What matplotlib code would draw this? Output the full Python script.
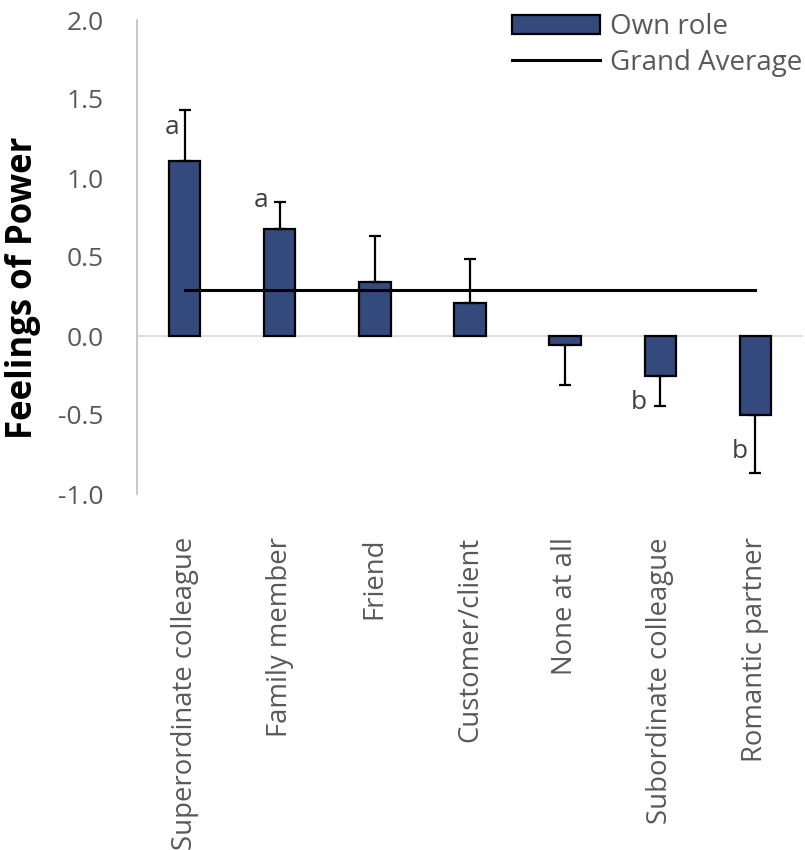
import numpy as np
import matplotlib
matplotlib.use('Agg')
import matplotlib.pyplot as plt
from matplotlib.lines import Line2D
from matplotlib.patches import Patch

# ── data ──────────────────────────────────────────────────────────────────────
roles = ['Superordinate colleague', 'Family member', 'Friend', 'Customer/client',
         'None at all', 'Subordinate colleague', 'Romantic partner']
means = [1.11, 0.68, 0.34, 0.21, -0.06, -0.25, -0.50]
errors = [0.32, 0.17, 0.29, 0.28, 0.25, 0.19, 0.37]
grand_avg = 0.29

# significance letters: (bar index, letter, y)
letters = [(0, 'a', 1.32), (1, 'a', 0.86), (5, 'b', -0.42), (6, 'b', -0.73)]
letter_dx = [-0.13, -0.20, -0.23, -0.16]

BAR_COLOR = '#344A7C'
GREY_TXT = '#595959'

plt.rcParams['font.family'] = ['Open Sans', 'DejaVu Sans']

fig = plt.figure(figsize=(8.05, 8.5), dpi=100)
ax = fig.add_axes([137/805, 1 - 494/850, 666/805, 474/850])

x = np.arange(len(roles))
means_a = np.array(means)
err_a = np.array(errors)
# one-sided error bars: away from zero
lower = np.where(means_a < 0, err_a, 0)
upper = np.where(means_a >= 0, err_a, 0)

ax.bar(x, means_a, width=0.33, color=BAR_COLOR, edgecolor='black',
       linewidth=1.6, zorder=3)
ax.errorbar(x, means_a, yerr=[lower, upper], fmt='none', ecolor='black',
            elinewidth=1.6, capsize=4.5, capthick=1.6, zorder=4)
ax.plot([x[0], x[-1]], [grand_avg, grand_avg], color='black', lw=2.2, zorder=5)

ax.axhline(0, color='#D9D9D9', lw=1.2, zorder=1)

for (i, lab, yy), dx in zip(letters, letter_dx):
    ax.text(x[i] + dx, yy, lab, ha='center', va='center', fontsize=19,
            color='#404040', zorder=6)

ax.set_xlim(-0.5, len(roles) - 0.5)
ax.set_ylim(-1.0, 2.0)
ax.set_yticks(np.arange(-1.0, 2.01, 0.5))
ax.set_yticklabels([f'{v:.1f}' for v in np.arange(-1.0, 2.01, 0.5)])
ax.set_xticks(x)
ax.set_xticklabels(roles, rotation=90, va='top')

ax.tick_params(axis='y', length=0, pad=24, labelsize=19, labelcolor=GREY_TXT)
ax.tick_params(axis='x', length=0, pad=31, labelsize=19.8, labelcolor=GREY_TXT)

for s in ['top', 'right', 'bottom']:
    ax.spines[s].set_visible(False)
ax.spines['left'].set_color('#BFBFBF')
ax.spines['left'].set_linewidth(1.2)

fig.text(23/805, 1 - 288/850, 'Feelings of Power', rotation=90, ha='center',
         va='center', fontsize=25, fontweight='bold', color='black')

handles = [Patch(facecolor=BAR_COLOR, edgecolor='black', linewidth=1.6),
           Line2D([0], [0], color='black', lw=2.2)]
fig.legend(handles, ['Own role', 'Grand Average'], loc='upper right',
           bbox_to_anchor=(802/805, 1 - 13/850), frameon=False, fontsize=20,
           labelcolor=GREY_TXT, handlelength=3.15, handleheight=0.65,
           handletextpad=0.36, labelspacing=0.28, borderpad=0, borderaxespad=0)

fig.savefig('out.png', dpi=100)
